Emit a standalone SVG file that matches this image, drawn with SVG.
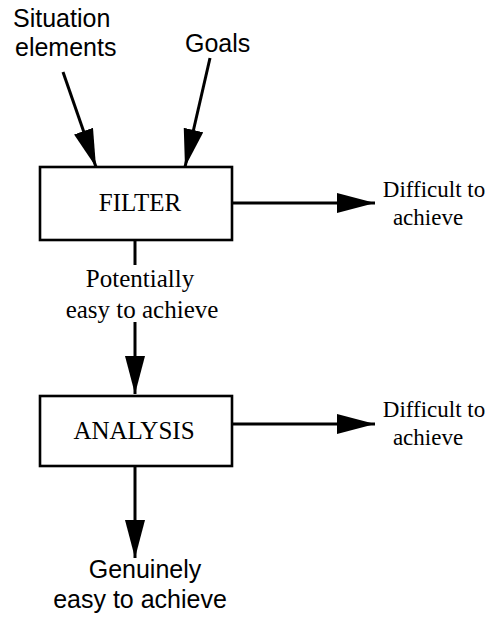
<svg xmlns="http://www.w3.org/2000/svg" width="491" height="619" viewBox="0 0 491 619">
  <style>
    .box { fill: #ffffff; stroke: #000000; stroke-width: 2.6; }
    .edge { fill: none; stroke: #000000; stroke-width: 3; }
    .serif { font-family: "Liberation Serif", "Times New Roman", serif; font-size: 25px; fill: #000000; }
    .side { font-family: "Liberation Serif", "Times New Roman", serif; font-size: 23px; fill: #000000; text-anchor: middle; }
    .sans { font-family: "Liberation Sans", Arial, sans-serif; font-size: 25px; fill: #000000; }
    .boxlabel { font-family: "Liberation Serif", "Times New Roman", serif; font-size: 25px; fill: #000000; text-anchor: middle; }
  </style>
  <defs>
    <marker id="head" markerUnits="userSpaceOnUse" markerWidth="40" markerHeight="22" refX="38" refY="10" orient="auto">
      <path d="M0,0 L38,10 L0,20 Z" fill="#000000"/>
    </marker>
  </defs>
  <rect width="491" height="619" fill="#ffffff"/>

  <!-- inputs -->
  <g id="situation-elements">
    <text class="sans" x="13" y="27">Situation</text>
    <text class="sans" x="15" y="56">elements</text>
  </g>
  <g id="goals">
    <text class="sans" x="185" y="52">Goals</text>
  </g>

  <!-- processing stages -->
  <g id="filter">
    <rect class="box" x="40" y="167" width="192" height="73"/>
    <text class="boxlabel" x="140" y="211">FILTER</text>
  </g>
  <g id="analysis">
    <rect class="box" x="40" y="396" width="192" height="70"/>
    <text class="boxlabel" x="134" y="439">ANALYSIS</text>
  </g>

  <!-- outcomes -->
  <g id="difficult-1">
    <text class="side" x="434" y="197">Difficult to</text>
    <text class="side" x="428" y="225">achieve</text>
  </g>
  <g id="potentially-easy">
    <text class="serif" text-anchor="middle" x="140" y="287">Potentially</text>
    <text class="serif" text-anchor="middle" x="142" y="318">easy to achieve</text>
  </g>
  <g id="difficult-2">
    <text class="side" x="434" y="417">Difficult to</text>
    <text class="side" x="428" y="445">achieve</text>
  </g>
  <g id="genuinely-easy">
    <text class="sans" text-anchor="middle" x="145" y="578">Genuinely</text>
    <text class="sans" text-anchor="middle" x="140" y="608">easy to achieve</text>
  </g>

  <!-- connectors -->
  <g id="connectors">
    <line class="edge" x1="63" y1="72" x2="96" y2="167" marker-end="url(#head)"/>
    <line class="edge" x1="210" y1="58" x2="185" y2="167" marker-end="url(#head)"/>
    <line class="edge" x1="232" y1="203" x2="375" y2="203" marker-end="url(#head)"/>
    <line class="edge" x1="135" y1="240" x2="135" y2="265"/>
    <line class="edge" x1="135" y1="322" x2="135" y2="394" marker-end="url(#head)"/>
    <line class="edge" x1="232" y1="424" x2="375" y2="424" marker-end="url(#head)"/>
    <line class="edge" x1="135" y1="466" x2="135" y2="558" marker-end="url(#head)"/>
  </g>
</svg>
